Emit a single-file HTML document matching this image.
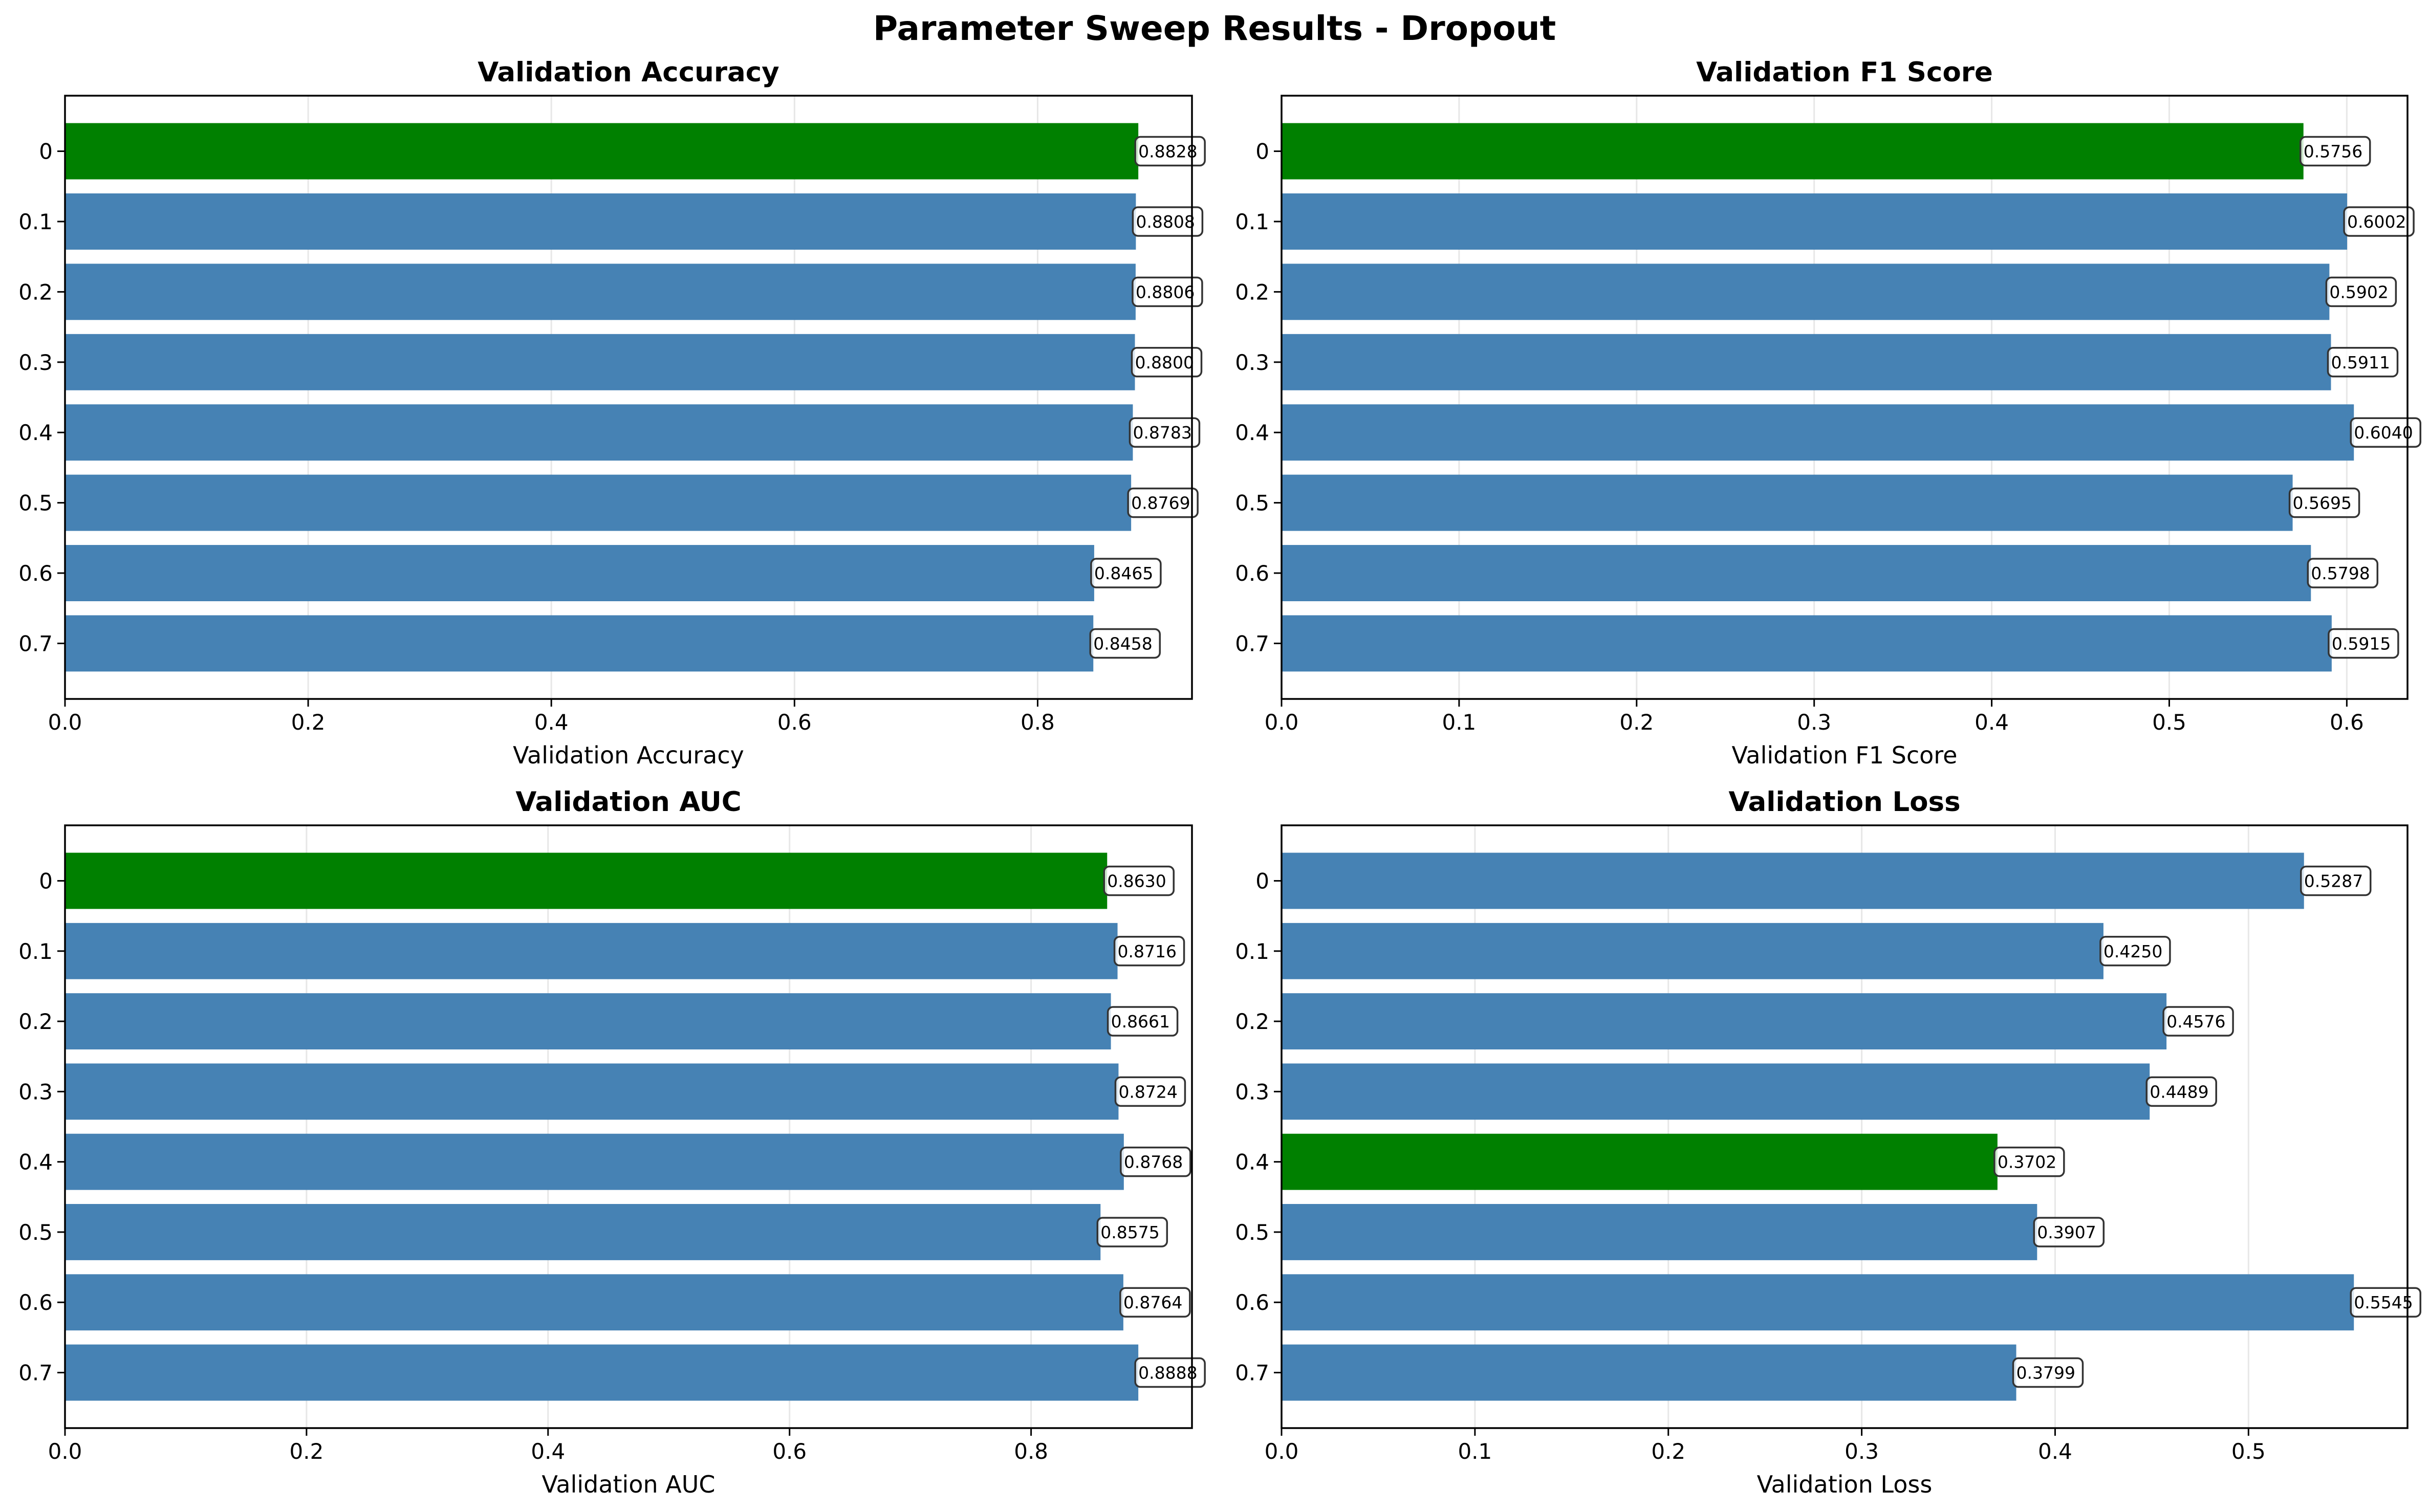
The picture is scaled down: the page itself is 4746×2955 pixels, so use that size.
<!DOCTYPE html>
<html><head><meta charset="utf-8">
<style>
html,body{margin:0;padding:0;background:#fff;}
svg{display:block;font-family:"DejaVu Sans","Liberation Sans",sans-serif;}
</style></head>
<body>
<svg id="chart" width="4746" height="2955" viewBox="0 0 4746 2955" xmlns="http://www.w3.org/2000/svg">
<rect width="4746" height="2955" fill="#fff"/>
<text x="2373" y="78" text-anchor="middle" font-size="66" font-weight="bold">Parameter Sweep Results - Dropout</text>
</svg>
<script>
const categories = ["0","0.1","0.2","0.3","0.4","0.5","0.6","0.7"];
const accValues = [0.8828,0.8808,0.8806,0.8800,0.8783,0.8769,0.8465,0.8458];
const f1Values = [0.5756,0.6002,0.5902,0.5911,0.6040,0.5695,0.5798,0.5915];
const aucValues = [0.8630,0.8716,0.8661,0.8724,0.8768,0.8575,0.8764,0.8888];
const lossValues = [0.5287,0.4250,0.4576,0.4489,0.3702,0.3907,0.5545,0.3799];
const accTicks = [0,0.2,0.4,0.6,0.8];
const f1Ticks = [0,0.1,0.2,0.3,0.4,0.5,0.6];
const aucTicks = [0,0.2,0.4,0.6,0.8];
const lossTicks = [0,0.1,0.2,0.3,0.4,0.5];
const panels = [
 {name:"accuracy", title:"Validation Accuracy", vals:accValues, ticks:accTicks, best:"max", x0:127,x1:2329,y0:187,y1:1366},
 {name:"f1", title:"Validation F1 Score", vals:f1Values, ticks:f1Ticks, best:"first", x0:2504,x1:4704,y0:187,y1:1366},
 {name:"auc", title:"Validation AUC", vals:aucValues, ticks:aucTicks, best:"first", x0:127,x1:2329,y0:1613,y1:2791},
 {name:"loss", title:"Validation Loss", vals:lossValues, ticks:lossTicks, best:"min", x0:2504,x1:4704,y0:1613,y1:2791}
];
const NS="http://www.w3.org/2000/svg";
const svg=document.getElementById("chart");
function mk(tag,attrs,parent){const e=document.createElementNS(NS,tag);for(const k in attrs)e.setAttribute(k,attrs[k]);(parent||svg).appendChild(e);return e;}
panels.forEach(p=>{
  const g=mk("g",{});
  
  
  const xmax=Math.max(...p.vals)*1.05;
  const xs=v=>p.x0+(v/xmax)*(p.x1-p.x0);
  const n=p.vals.length;
  const ymin=-0.4-0.39, ymax=(n-1)+0.4+0.39;
  const ys=c=>p.y0+((c-ymin)/(ymax-ymin))*(p.y1-p.y0);
  const unit=(p.y1-p.y0)/(ymax-ymin);
  let bestIdx=0;
  if(p.best==="max"){bestIdx=p.vals.indexOf(Math.max(...p.vals));}
  else if(p.best==="min"){bestIdx=p.vals.indexOf(Math.min(...p.vals));}
  p.ticks.forEach(t=>{
    const gl=mk("line",{x1:xs(t),x2:xs(t),y1:p.y0,y2:p.y1,stroke:"#b0b0b0","stroke-width":3,"stroke-opacity":0.3},g);
    
    
  });
  p.vals.forEach((v,i)=>{
    const b=mk("rect",{x:p.x0,y:ys(i)-0.4*unit,width:xs(v)-p.x0,height:0.8*unit,fill:i===bestIdx?"#008000":"#4682b4"},g);
    
    
  });
  p.vals.forEach((v,i)=>{
    const bx=xs(v)-6, by=ys(i)-28;
    const box=mk("rect",{x:bx,y:by,width:136,height:56,rx:10,fill:"#fff","fill-opacity":0.8,stroke:"#333","stroke-width":3.5},g);
    
    
    const t=mk("text",{x:bx+6,y:ys(i)+12,"font-size":33},g);
    t.textContent=v.toFixed(4);
    
    
  });
  const fr=mk("rect",{x:p.x0,y:p.y0,width:p.x1-p.x0,height:p.y1-p.y0,fill:"none",stroke:"#000","stroke-width":3.5},g);
  
  
  p.ticks.forEach(t=>{
    mk("line",{x1:xs(t),x2:xs(t),y1:p.y1,y2:p.y1+15,stroke:"#000","stroke-width":3},g);
    const tl=mk("text",{x:xs(t),y:p.y1+60,"text-anchor":"middle","font-size":42},g);
    tl.textContent=t.toFixed(1);
    
    
  });
  categories.forEach((c,i)=>{
    mk("line",{x1:p.x0-15,x2:p.x0,y1:ys(i),y2:ys(i),stroke:"#000","stroke-width":3},g);
    const tl=mk("text",{x:p.x0-24,y:ys(i)+15,"text-anchor":"end","font-size":42},g);
    tl.textContent=c;
    
    
  });
  const xl=mk("text",{x:(p.x0+p.x1)/2,y:p.y1+126,"text-anchor":"middle","font-size":46},g);
  xl.textContent=p.title;
  
  
  const tt=mk("text",{x:(p.x0+p.x1)/2,y:p.y0-28,"text-anchor":"middle","font-size":53,"font-weight":"bold"},g);
  tt.textContent=p.title;
  
  
});
</script>
</body></html>
